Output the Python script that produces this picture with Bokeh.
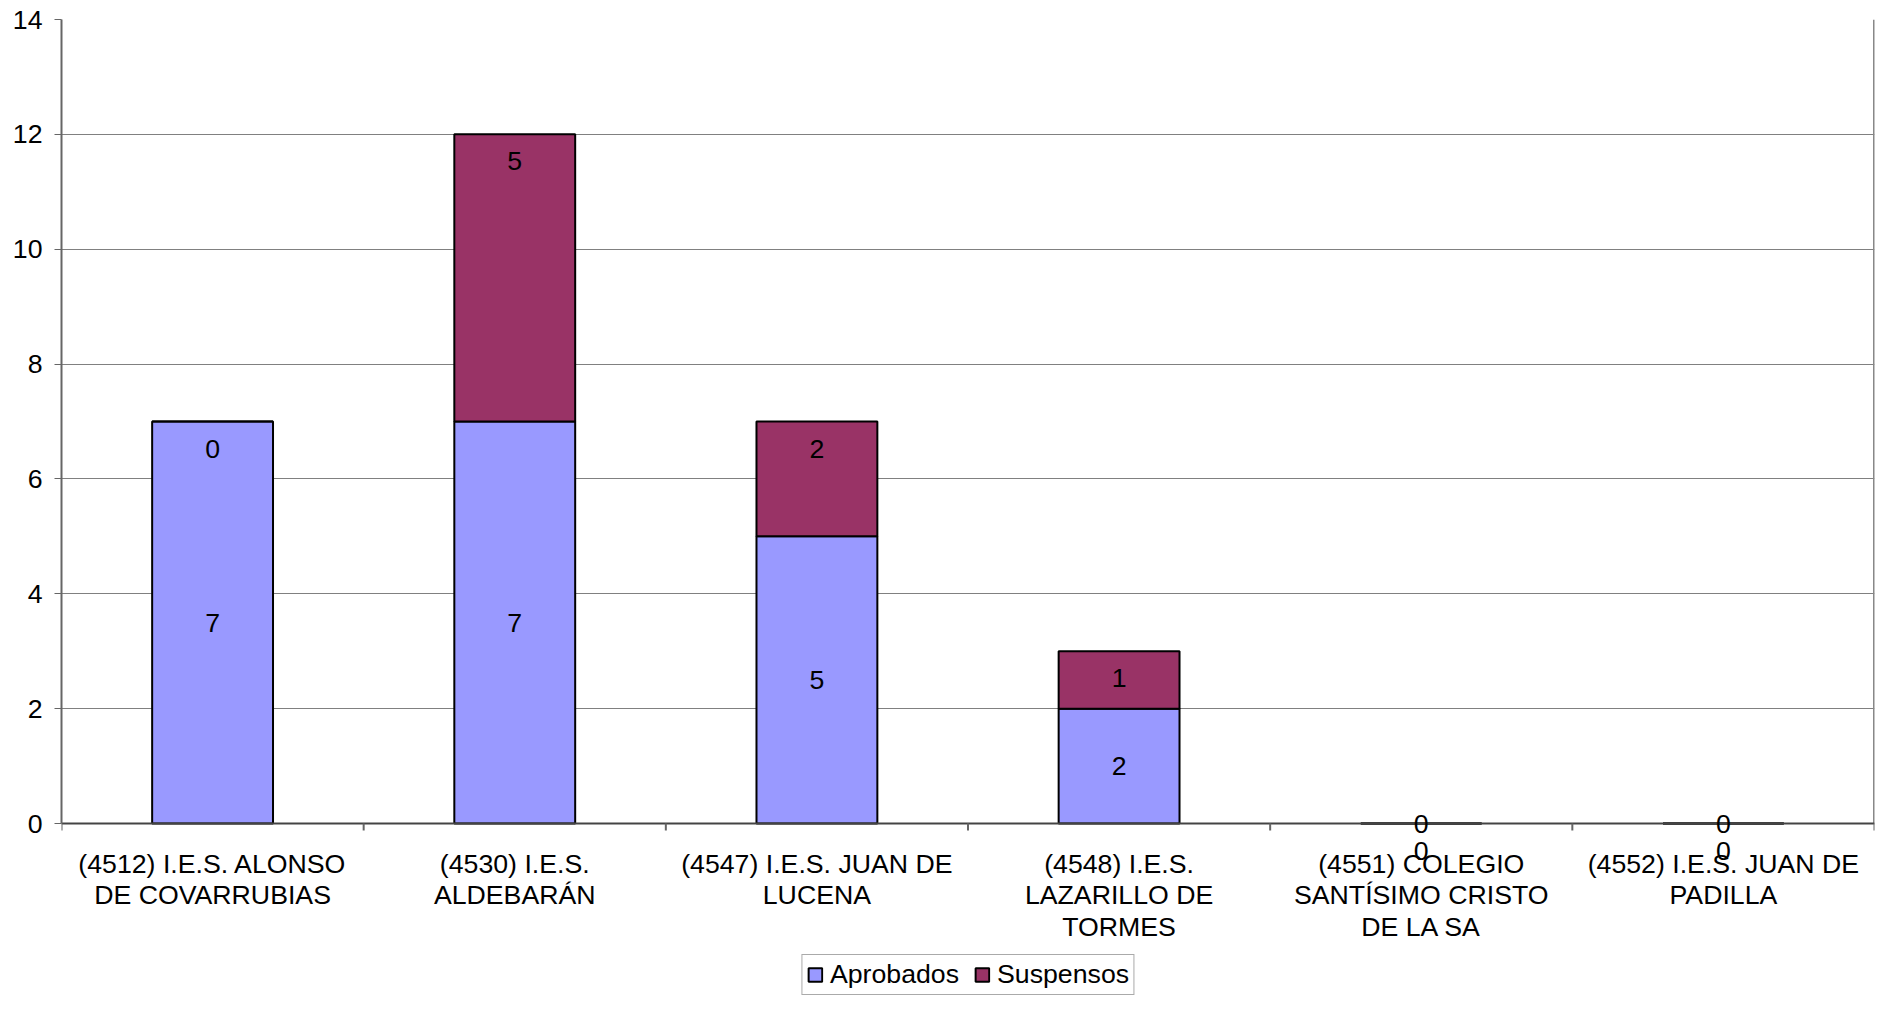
from bokeh.plotting import figure
from bokeh.models import (ColumnDataSource, FixedTicker, Range1d, Legend, LegendItem,
                          LabelSet)
from bokeh.core.properties import value
from bokeh.embed import file_html
from bokeh.resources import INLINE

categories = [
    "(4512) I.E.S. ALONSO\nDE COVARRUBIAS",
    "(4530) I.E.S.\nALDEBARÁN",
    "(4547) I.E.S. JUAN DE\nLUCENA",
    "(4548) I.E.S.\nLAZARILLO DE\nTORMES",
    "(4551) COLEGIO\nSANTÍSIMO CRISTO\nDE LA SA",
    "(4552) I.E.S. JUAN DE\nPADILLA",
]
aprobados = [7, 7, 5, 2, 0, 0]
suspensos = [0, 5, 2, 1, 0, 0]
y_ticks = [0, 2, 4, 6, 8, 10, 12, 14]

FONT = "Liberation Sans"
FS = "26.7px"
C_APR = "#9999FF"
C_SUS = "#993366"

# layout (pixels)
W, H = 1876, 995
BORDER_L, BORDER_T, BORDER_R = 61, 19, 2
PLOT_PX = 804                      # pixels from value 0 to value 14
FRAME_W = W - BORDER_L - BORDER_R
FRAME_H = H - BORDER_T
Y_MAX = y_ticks[-1]
PPU = PLOT_PX / Y_MAX
Y_MIN = -(FRAME_H - PLOT_PX) / PPU
TICK_PX = 7
LINE_PX = 31.5
FIRST_LINE_PX = 40

n = len(categories)
xs = [i + 0.5 for i in range(n)]
tops = [a + s for a, s in zip(aprobados, suspensos)]

src = ColumnDataSource(dict(
    x=xs,
    apr=aprobados,
    sus=suspensos,
    top=tops,
    apr_mid=[a / 2 for a in aprobados],
    apr_txt=[str(a) for a in aprobados],
    sus_txt=[str(s) for s in suspensos],
))

p = figure(width=W, height=H, frame_width=FRAME_W, frame_height=FRAME_H,
           output_backend="svg", toolbar_location=None,
           x_range=Range1d(0, n), y_range=Range1d(Y_MIN, Y_MAX),
           x_axis_location=None,
           min_border_left=BORDER_L, min_border_top=BORDER_T,
           min_border_right=BORDER_R, min_border_bottom=0)

# grid (only over the value range)
p.xgrid.grid_line_color = None
p.ygrid.ticker = FixedTicker(ticks=y_ticks)
p.ygrid.grid_line_color = "#808080"
p.ygrid.grid_line_width = 1
p.outline_line_color = None

# right border
p.segment(x0=[n], y0=[0], x1=[n], y1=[Y_MAX], line_color="#888888", line_width=3)

r1 = p.vbar(x="x", bottom=0, top="apr", width=0.4, source=src,
            fill_color=C_APR, line_color="black", line_width=2)
r2 = p.vbar(x="x", bottom="apr", top="top", width=0.4, source=src,
            fill_color=C_SUS, line_color="black", line_width=2)

# category axis (line, boundary ticks)
bounds = list(range(n + 1))
p.segment(x0=[0], y0=[0], x1=[n], y1=[0], line_color="#444444", line_width=2)
p.segment(x0=bounds, y0=[0] * len(bounds), x1=bounds,
          y1=[-TICK_PX / PPU] * len(bounds), line_color="#666666", line_width=2)

# y axis
p.yaxis.ticker = FixedTicker(ticks=y_ticks)
p.yaxis.bounds = (0, Y_MAX)
p.yaxis.major_label_text_font = FONT
p.yaxis.major_label_text_font_size = FS
p.yaxis.major_label_text_color = "black"
p.yaxis.major_tick_out = TICK_PX
p.yaxis.major_tick_in = 0
p.yaxis.minor_tick_out = 0
p.yaxis.minor_tick_in = 0
p.yaxis.major_label_standoff = 12
p.yaxis.axis_line_color = "#666666"
p.yaxis.axis_line_width = 2
p.yaxis.major_tick_line_color = "#666666"

# category labels, one centred LabelSet per text line
split = [c.split("\n") for c in categories]
max_lines = max(len(s) for s in split)
for k in range(max_lines):
    lx = [x for x, s in zip(xs, split) if len(s) > k]
    lt = [s[k] for s in split if len(s) > k]
    lsrc = ColumnDataSource(dict(x=lx, y=[0] * len(lx), t=lt))
    p.add_layout(LabelSet(x="x", y="y", text="t", source=lsrc,
                          y_offset=-(FIRST_LINE_PX + k * LINE_PX),
                          text_align="center", text_baseline="middle",
                          text_font=value(FONT), text_font_size=FS,
                          text_color="black"))

# data labels
apr_labels = LabelSet(x="x", y="apr_mid", text="apr_txt", source=src,
                      text_align="center", text_baseline="middle",
                      text_font=value(FONT), text_font_size=FS,
                      text_color="black")
sus_labels = LabelSet(x="x", y="top", text="sus_txt", source=src, y_offset=-27,
                      text_align="center", text_baseline="middle",
                      text_font=value(FONT), text_font_size=FS,
                      text_color="black")
p.add_layout(apr_labels)
p.add_layout(sus_labels)

legend = Legend(items=[LegendItem(label="Aprobados", renderers=[r1]),
                       LegendItem(label="Suspensos", renderers=[r2])],
                orientation="horizontal", location="bottom_center",
                label_text_font=FONT, label_text_font_size=FS,
                label_text_color="black",
                glyph_width=17, glyph_height=17, label_standoff=7,
                spacing=14, padding=4, margin=0,
                border_line_color="#555555", border_line_width=1,
                background_fill_color="white", background_fill_alpha=1)
p.add_layout(legend, "center")

open("out.html", "w").write(file_html(p, INLINE))
